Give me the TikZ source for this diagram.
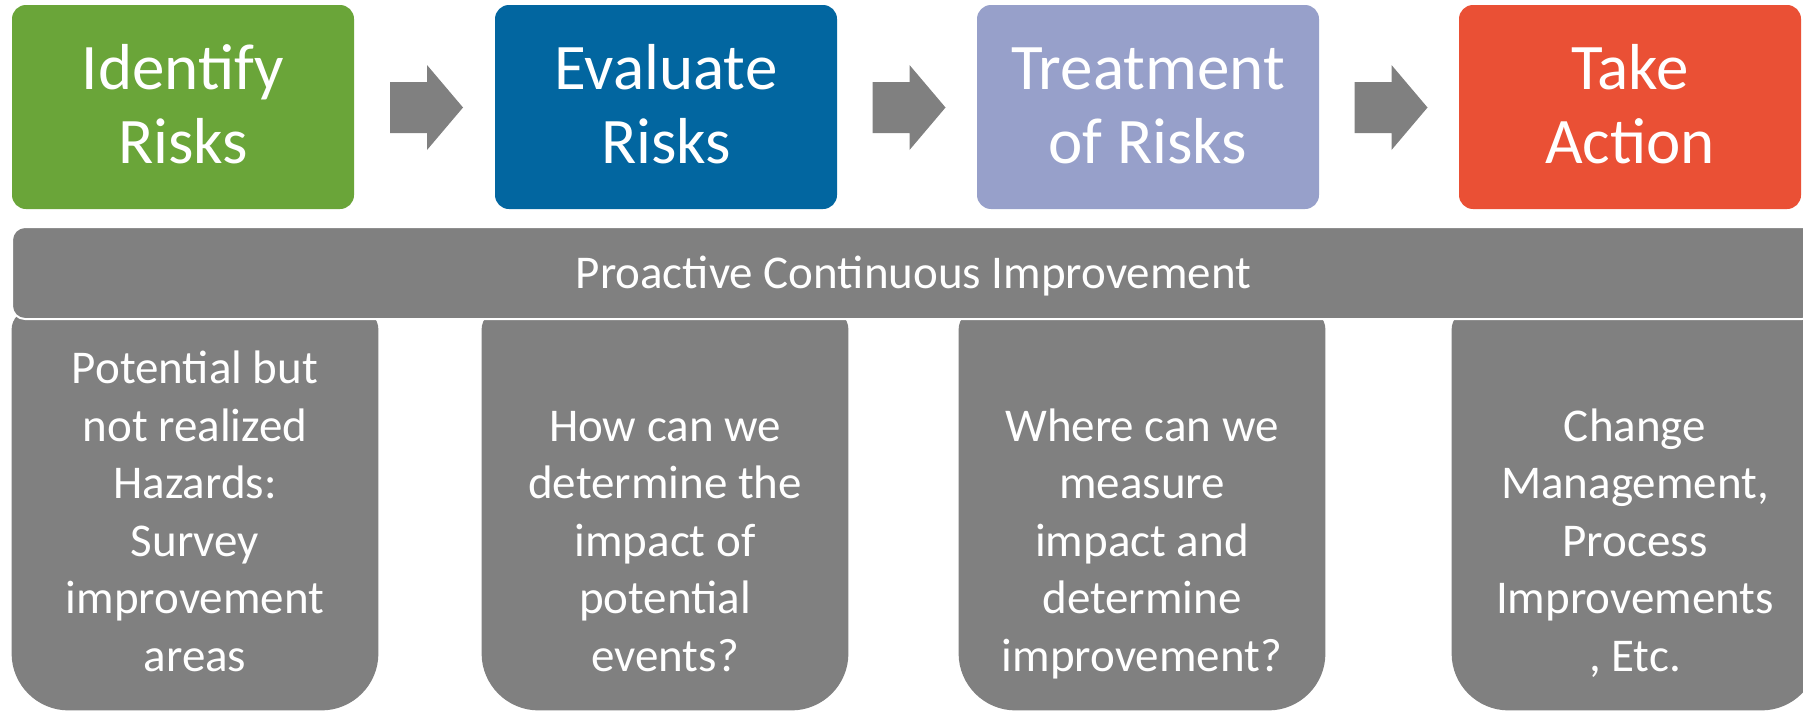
\documentclass[tikz,border=0pt]{standalone}
\usepackage{fontspec}
\setmainfont{Carlito}
\usetikzlibrary{calc}
\definecolor{stepgreen}{RGB}{106,165,57}
\definecolor{stepblue}{RGB}{2,102,160}
\definecolor{steppurple}{RGB}{151,160,202}
\definecolor{stepred}{RGB}{234,80,53}
\definecolor{stepgray}{RGB}{128,128,128}
\tikzset{
  topbox/.style={minimum width=171pt, minimum height=102pt, rounded corners=7pt, inner sep=0pt, draw=none},
  toptext/.style={text=white, align=center, inner sep=0pt, font=\fontsize{32.5pt}{37pt}\selectfont},
  bottext/.style={text=white, align=center, inner sep=0pt, font=\fontsize{23.5pt}{28.75pt}\selectfont},
  botframe/.style={minimum width=183pt, minimum height=200pt, inner sep=0pt},
  barbox/.style={fill=stepgray, draw=white, line width=1pt, rounded corners=6.5pt, minimum width=901.5pt, minimum height=46pt, inner sep=0pt},
  arrowfill/.style={fill=stepgray, draw=none}
}
\newcommand\riskarrow[2]{%
  \coordinate (#2) at ($(#1)+(2,0.5)$);
  \fill[arrowfill] ($(#2)+(-36.5,-25.5)$) -- ($(#2)+(0.5,-25.5)$) -- ($(#2)+(0.5,-42.5)$) -- ($(#2)+(36.5,0)$) -- ($(#2)+(0.5,42.5)$) -- ($(#2)+(0.5,25.5)$) -- ($(#2)+(-36.5,25.5)$) -- cycle;}
\newcommand\botshape[1]{%
  \fill[stepgray] [rounded corners=10pt] (#1.west) -- (#1.north west) -- (#1.north east) -- (#1.east) [rounded corners=28.5pt] -- (#1.south east) -- (#1.south west) -- cycle;}
\begin{document}
\begin{tikzpicture}[x=0.5pt, y=-0.5pt]
\clip (0,0) rectangle (1803,712);
\fill[white] (0,0) rectangle (1803,712);
% bottom boxes
\node[botframe] (b1) at (195,510) {};
\node[botframe] (b2) at (665,510) {};
\node[botframe] (b3) at (1142,510) {};
\node[botframe] (b4) at (1635,510) {};
\botshape{b1}\botshape{b2}\botshape{b3}\botshape{b4}
\node[bottext, anchor=base] (b1t) at (195,671) {Potential but\\not realized\\Hazards:\\Survey\\improvement\\areas};
\node[bottext, anchor=base] (b2t) at (665,671) {How can we\\determine the\\impact of\\potential\\events?};
\node[bottext, anchor=base] (b3t) at (1142,671) {Where can we\\measure\\impact and\\determine\\improvement?};
\node[bottext, anchor=base] (b4t) at (1635,671) {Change\\Management,\\Process\\Improvements\\, Etc.};
% bar
\node[barbox] (bar) at (913.5,273) {};
\node[bottext, anchor=base] (bart) at (913.5,288) {Proactive Continuous Improvement};
% top boxes
\node[topbox, fill=stepgreen] (id) at (183,107) {};
\node[topbox, fill=stepblue] (ev) at (666,107) {};
\node[topbox, fill=steppurple] (tr) at (1148,107) {};
\node[topbox, fill=stepred] (ta) at (1630,107) {};
\node[toptext, anchor=base] (idt) at (183,163) {Identify\\Risks};
\node[toptext, anchor=base] (evt) at (666,163) {Evaluate\\Risks};
\node[toptext, anchor=base] (trt) at (1148,163) {Treatment\\of Risks};
\node[toptext, anchor=base] (tat) at (1630,163) {Take\\Action};
% arrows
\coordinate (m1) at ($(id.east)!0.5!(ev.west)$);
\coordinate (m2) at ($(ev.east)!0.5!(tr.west)$);
\coordinate (m3) at ($(tr.east)!0.5!(ta.west)$);
\riskarrow{m1}{a1}
\riskarrow{m2}{a2}
\riskarrow{m3}{a3}
\end{tikzpicture}
\end{document}
